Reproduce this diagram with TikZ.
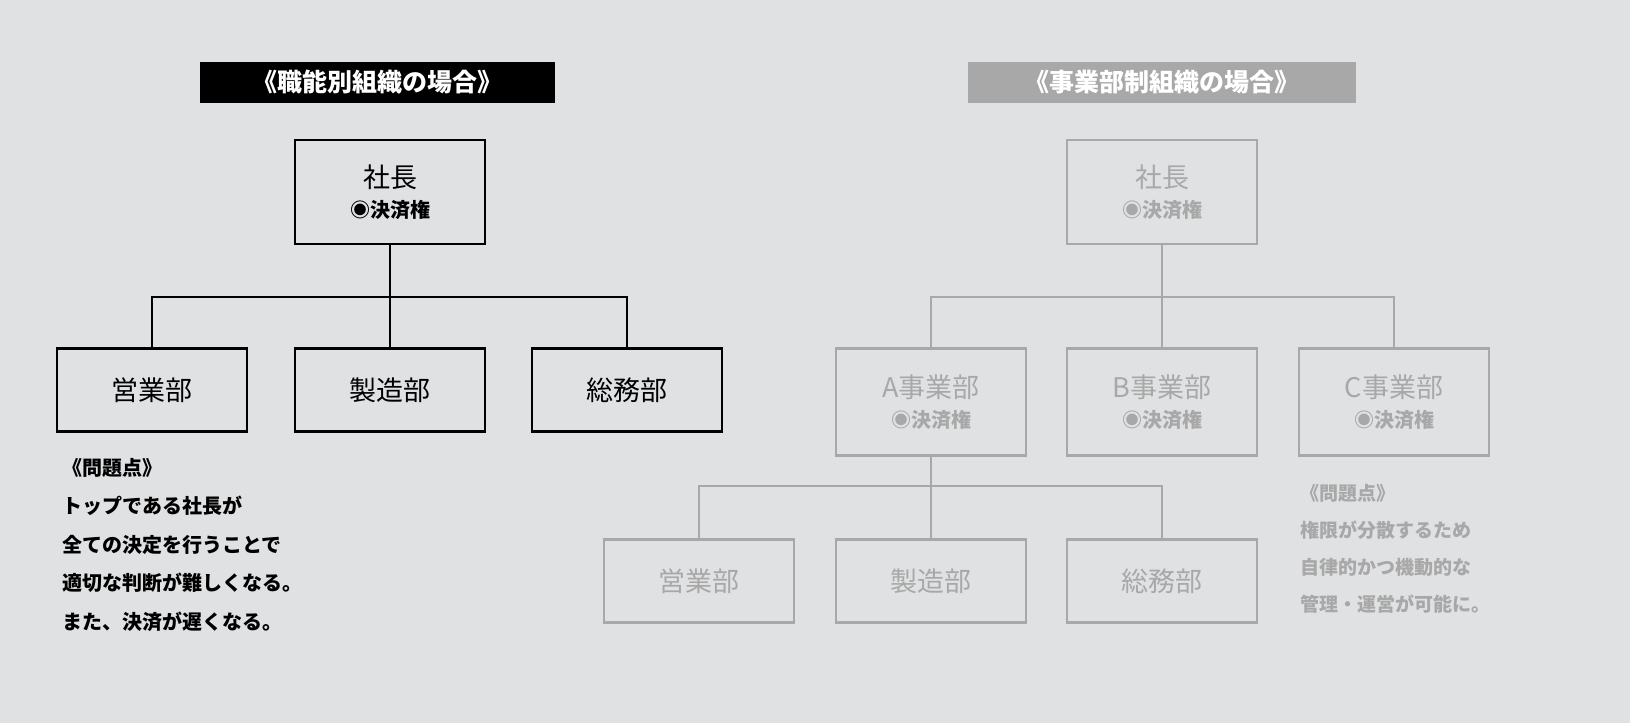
\documentclass[tikz,border=0pt]{standalone}
\usepackage{fontspec}
\setmainfont{Noto Sans CJK JP}
\usetikzlibrary{positioning}
\definecolor{bgcol}{HTML}{E0E1E3}
\definecolor{fadecol}{HTML}{A8A8A8}
\tikzset{
  unit/.style={draw,line width=2.2pt,minimum width=190pt,minimum height=83pt,inner sep=0pt,align=center,font=\fontsize{27}{32}\selectfont},
  boss/.style={unit,minimum height=104pt},
  faded/.style={draw=fadecol,text=fadecol},
  link/.style={line width=2.2pt},
  note/.style={anchor=north west,align=left,inner sep=0pt,font=\fontsize{20}{38.5}\selectfont\bfseries},
  title/.style={minimum height=41pt,inner sep=0pt,font=\fontsize{25}{28}\selectfont\bfseries,text=white}
}
\newcommand\rightsmark{{\fontsize{20}{24}\selectfont\bfseries ◉決済権}}
\begin{document}
\begin{tikzpicture}[x=1pt,y=-1pt]
\fill[bgcol] (0,0) rectangle (1630,723);
\useasboundingbox (0,0) rectangle (1630,723);

% left: functional organisation
\node[title,fill=black,minimum width=355pt] (ltitle) at (377,82) {《職能別組織の場合》};
\node[boss] (lceo) at (390,192) {社長\\[-2pt]\rightsmark};
\node[unit] (lsales) at (152,390) {営業部};
\node[unit] (lmake) at (390,390) {製造部};
\node[unit] (ladmin) at (627,390) {総務部};
\coordinate (lbus) at (390,297);
\draw[link] (lsales.north) |- (lbus) -| (ladmin.north);
\draw[link] (lceo.south) -- (lmake.north);
\node[note] (lnote) at (62,458) {《問題点》\\トップである社長が\\全ての決定を行うことで\\適切な判断が難しくなる。\\また、決済が遅くなる。};

% right: divisional organisation
\node[title,fill=fadecol,minimum width=388pt] (rtitle) at (1162,82) {《事業部制組織の場合》};
\node[boss,faded] (rceo) at (1162,192) {社長\\[-2pt]\rightsmark};
\node[unit,faded,minimum height=107pt] (diva) at (931,402) {A事業部\\[-2pt]\rightsmark};
\node[unit,faded,minimum height=107pt] (divb) at (1162,402) {B事業部\\[-2pt]\rightsmark};
\node[unit,faded,minimum height=107pt] (divc) at (1394,402) {C事業部\\[-2pt]\rightsmark};
\coordinate (rbus) at (1162,297);
\draw[link,fadecol] (diva.north) |- (rbus) -| (divc.north);
\draw[link,fadecol] (rceo.south) -- (divb.north);
\node[unit,faded] (rsales) at (699,581) {営業部};
\node[unit,faded] (rmake) at (931,581) {製造部};
\node[unit,faded] (radmin) at (1162,581) {総務部};
\coordinate (abus) at (931,486);
\draw[link,fadecol] (rsales.north) |- (abus) -| (radmin.north);
\draw[link,fadecol] (diva.south) -- (rmake.north);
\node[note,text=fadecol,font=\fontsize{19}{37}\selectfont\bfseries] (rnote) at (1300,484) {《問題点》\\権限が分散するため\\自律的かつ機動的な\\管理・運営が可能に。};
\end{tikzpicture}
\end{document}
